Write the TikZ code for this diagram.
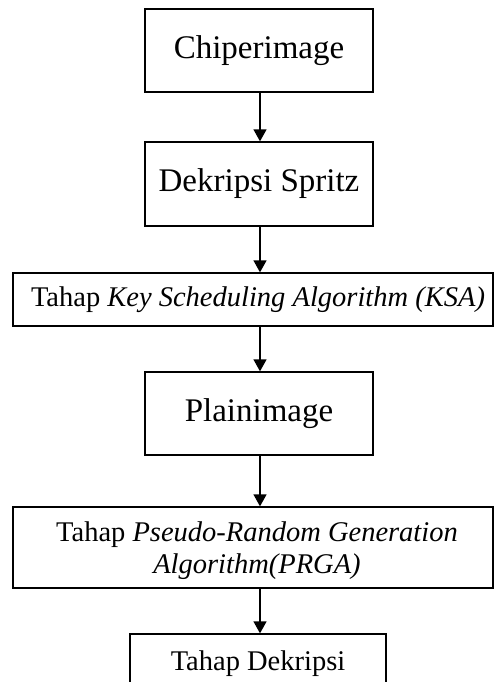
\documentclass[tikz,border=0pt]{standalone}
\usepackage{fontspec}
\setmainfont{Liberation Serif}
\usetikzlibrary{arrows.meta}
\begin{document}
\begin{tikzpicture}[x=1pt,y=-1pt,
  box/.style={draw,line width=1.3pt,inner sep=0pt,align=center},
  big/.style={font=\fontsize{33}{38}\selectfont},
  small/.style={font=\fontsize{28.5}{32}\selectfont},
  flow/.style={-{Triangle[length=12pt,width=13pt]},line width=1.3pt}]
\useasboundingbox (0,0) rectangle (494,682);
\clip (0,0) rectangle (494,682);
\coordinate (ax) at (260,0);
% main blocks
\node[box,big,minimum width=228pt,minimum height=83pt] (c) at (259,50.5) {Chiperimage};
\node[box,big,minimum width=228pt,minimum height=84pt] (d) at (259,184) {Dekripsi Spritz};
\node[box,minimum width=480pt,minimum height=53pt] (k) at (253,299.5) {};
\node[small] (kt) at ([xshift=5pt]k.center) {Tahap \textit{Key Scheduling Algorithm (KSA)}};
\node[box,big,minimum width=228pt,minimum height=83pt] (p) at (259,413.5) {Plainimage};
\node[box,minimum width=480pt,minimum height=81pt] (g) at (253,547.5) {};
\node[small,align=center] (gt) at ([xshift=4pt,yshift=-3pt]g.center) {Tahap \textit{Pseudo-Random Generation}\\\textit{Algorithm(PRGA)}};
\node[box,minimum width=256pt,minimum height=80pt] (t) at (258,674) {};
\node[small,anchor=base] (tt) at (258,670) {Tahap Dekripsi};
% connectors
\draw[flow] (c.south -| ax) -- (d.north -| ax);
\draw[flow] (d.south -| ax) -- (k.north -| ax);
\draw[flow] (k.south -| ax) -- (p.north -| ax);
\draw[flow] (p.south -| ax) -- (g.north -| ax);
\draw[flow] (g.south -| ax) -- (t.north -| ax);
\end{tikzpicture}
\end{document}
